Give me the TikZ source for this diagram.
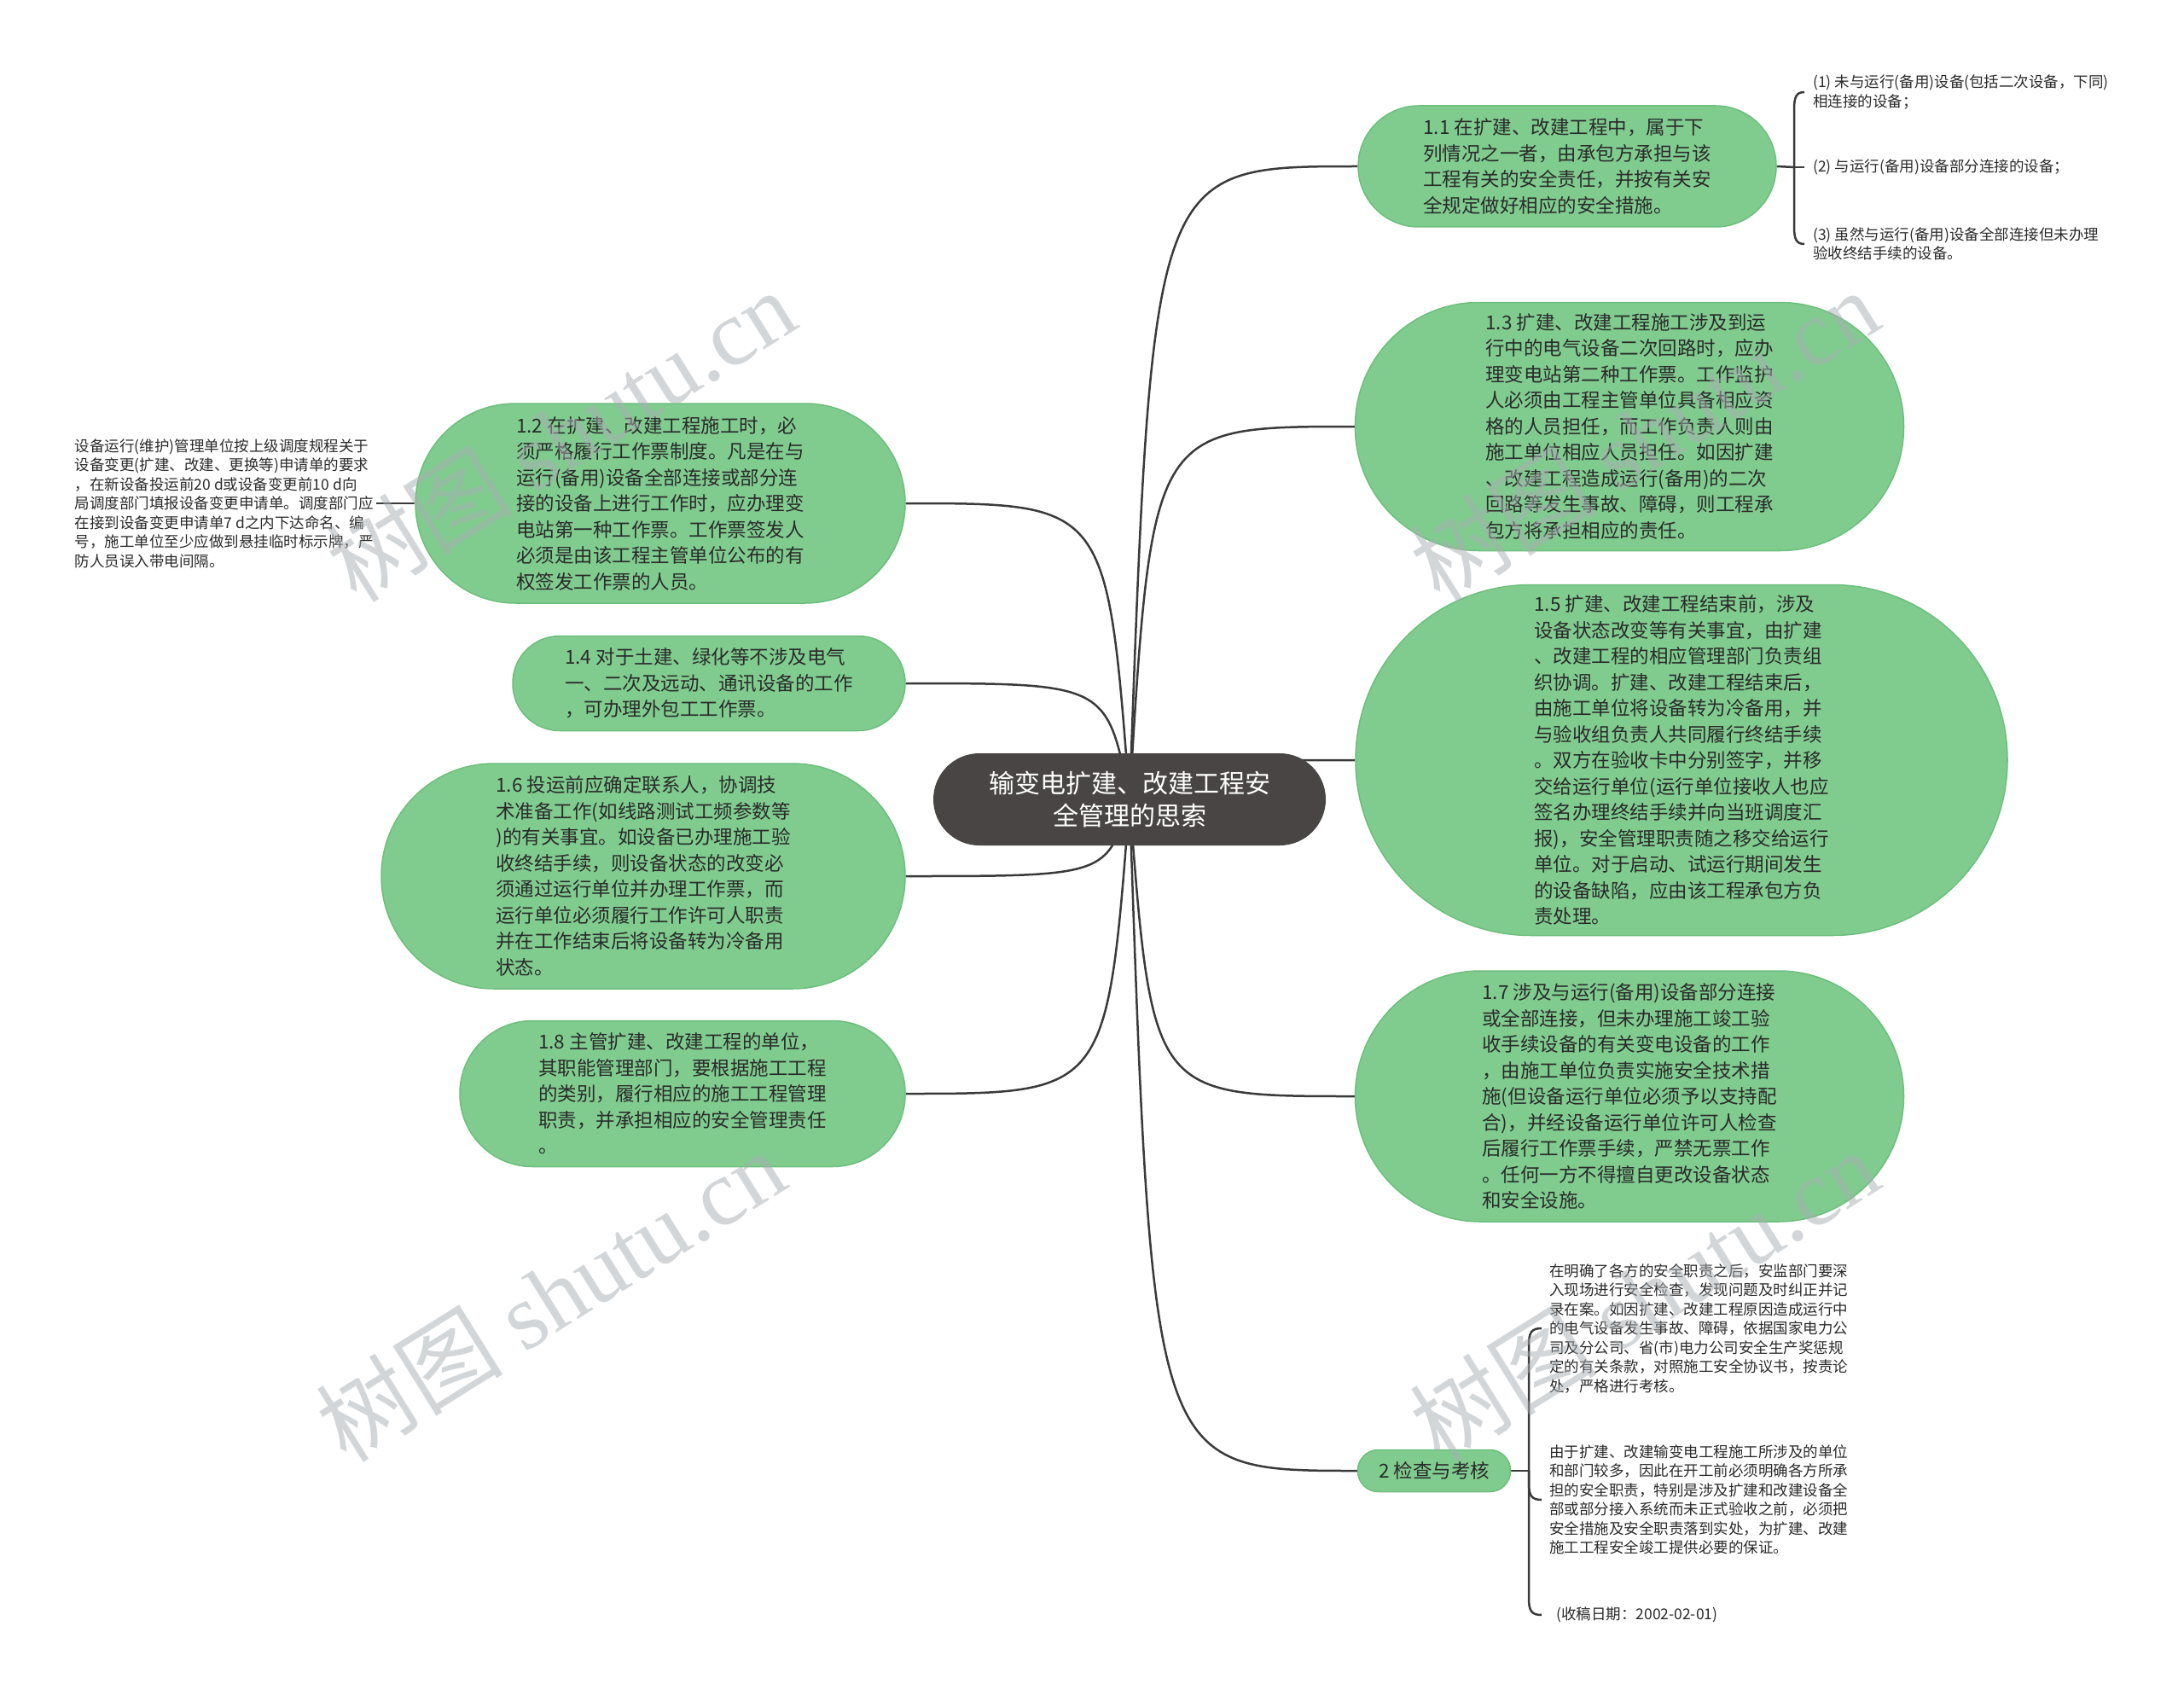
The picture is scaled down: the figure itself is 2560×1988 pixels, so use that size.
\documentclass[tikz,border=0pt]{standalone}
\usepackage{fontspec}
\setmainfont{Noto Sans CJK SC}
\newfontfamily\wmserif{Liberation Serif}
\usetikzlibrary{calc}
\pgfdeclarelayer{bg}\pgfdeclarelayer{fg}
\pgfsetlayers{bg,main,fg}
\definecolor{nodegreen}{HTML}{80CC8F}
\definecolor{nodeedge}{HTML}{6CBF7C}
\definecolor{rootfill}{HTML}{4A4545}
\definecolor{txt}{HTML}{2A2A2A}
\definecolor{wirecol}{HTML}{3A3A3A}
\definecolor{wmcol}{HTML}{A9AEB2}
\tikzset{
  topic/.style={draw=nodeedge, line width=1.5, fill=nodegreen, text=txt, align=left,
    font=\fontsize{22.5}{30.5}\selectfont, inner sep=0},
  root/.style={fill=rootfill, text=white, align=center, inner sep=0,
    font=\fontsize{30}{38}\selectfont},
  leaf/.style={text=txt, align=left, font=\fontsize{17.5}{22.5}\selectfont,
    inner xsep=10, inner ysep=2, anchor=west},
  wire/.style={draw=wirecol, line width=2.5},
  wm/.style={text=wmcol, opacity=0.5, rotate=32, inner sep=0},
}
\begin{document}
\begin{tikzpicture}[x=1pt, y=-1pt]
\useasboundingbox (0,0) rectangle (2560,1988);

% root
\node[root, minimum width=460, minimum height=108, rounded corners=54] (C) at (1324,937)
  {输变电扩建、改建工程安\\全管理的思索};

% right topics
\node[topic, minimum width=490, minimum height=142, rounded corners=71] (N11) at (1837,195)
  {1.1 在扩建、改建工程中，属于下\\列情况之一者，由承包方承担与该\\工程有关的安全责任，并按有关安\\全规定做好相应的安全措施。};
\node[topic, minimum width=643, minimum height=291, rounded corners=145] (N13) at (1910,500)
  {1.3 扩建、改建工程施工涉及到运\\行中的电气设备二次回路时，应办\\理变电站第二种工作票。工作监护\\人必须由工程主管单位具备相应资\\格的人员担任，而工作负责人则由\\施工单位相应人员担任。如因扩建\\、改建工程造成运行(备用)的二次\\回路等发生事故、障碍，则工程承\\包方将承担相应的责任。};
\node[topic, minimum width=764, minimum height=411, rounded corners=205] (N15) at (1971,891)
  {1.5 扩建、改建工程结束前，涉及\\设备状态改变等有关事宜，由扩建\\、改建工程的相应管理部门负责组\\织协调。扩建、改建工程结束后，\\由施工单位将设备转为冷备用，并\\与验收组负责人共同履行终结手续\\。双方在验收卡中分别签字，并移\\交给运行单位(运行单位接收人也应\\签名办理终结手续并向当班调度汇\\报)，安全管理职责随之移交给运行\\单位。对于启动、试运行期间发生\\的设备缺陷，应由该工程承包方负\\责处理。};
\node[topic, minimum width=643, minimum height=294, rounded corners=147] (N17) at (1910,1285)
  {1.7 涉及与运行(备用)设备部分连接\\或全部连接，但未办理施工竣工验\\收手续设备的有关变电设备的工作\\，由施工单位负责实施安全技术措\\施(但设备运行单位必须予以支持配\\合)，并经设备运行单位许可人检查\\后履行工作票手续，严禁无票工作\\。任何一方不得擅自更改设备状态\\和安全设施。};
\node[topic, minimum width=179, minimum height=49, rounded corners=24] (N2) at (1681,1724)
  {2 检查与考核};

% left topics
\node[topic, minimum width=574, minimum height=234, rounded corners=117] (N12) at (774,590)
  {1.2 在扩建、改建工程施工时，必\\须严格履行工作票制度。凡是在与\\运行(备用)设备全部连接或部分连\\接的设备上进行工作时，应办理变\\电站第一种工作票。工作票签发人\\必须是由该工程主管单位公布的有\\权签发工作票的人员。};
\node[topic, minimum width=460, minimum height=111, rounded corners=55] (N14) at (831,801)
  {1.4 对于土建、绿化等不涉及电气\\一、二次及远动、通讯设备的工作\\，可办理外包工工作票。};
\node[topic, minimum width=614, minimum height=264, rounded corners=132] (N16) at (754,1027)
  {1.6 投运前应确定联系人，协调技\\术准备工作(如线路测试工频参数等\\)的有关事宜。如设备已办理施工验\\收终结手续，则设备状态的改变必\\须通过运行单位并办理工作票，而\\运行单位必须履行工作许可人职责\\并在工作结束后将设备转为冷备用\\状态。};
\node[topic, minimum width=522, minimum height=171, rounded corners=85] (N18) at (800,1282)
  {1.8 主管扩建、改建工程的单位，\\其职能管理部门，要根据施工工程\\的类别，履行相应的施工工程管理\\职责，并承担相应的安全管理责任\\。};

% leaves
\node[leaf, inner xsep=3, anchor=east] (LL) at (441,590)
  {设备运行(维护)管理单位按上级调度规程关于\\设备变更(扩建、改建、更换等)申请单的要求\\，在新设备投运前20 d或设备变更前10 d向\\局调度部门填报设备变更申请单。调度部门应\\在接到设备变更申请单7 d之内下达命名、编\\号，施工单位至少应做到悬挂临时标示牌，严\\防人员误入带电间隔。};

\coordinate (J1) at (2103,196);
\node[leaf] (L1) at (2115,108) {(1) 未与运行(备用)设备(包括二次设备，下同)\\相连接的设备；};
\node[leaf] (L2) at (2115,196) {(2) 与运行(备用)设备部分连接的设备；};
\node[leaf] (L3) at (2115,286) {(3) 虽然与运行(备用)设备全部连接但未办理\\验收终结手续的设备。};

\coordinate (J2) at (1792,1724);
\node[leaf, inner xsep=9] (B1) at (1807,1557)
  {在明确了各方的安全职责之后，安监部门要深\\入现场进行安全检查，发现问题及时纠正并记\\录在案。如因扩建、改建工程原因造成运行中\\的电气设备发生事故、障碍，依据国家电力公\\司及分公司、省(市)电力公司安全生产奖惩规\\定的有关条款，对照施工安全协议书，按责论\\处，严格进行考核。};
\node[leaf, inner xsep=9] (B2) at (1807,1758)
  {由于扩建、改建输变电工程施工所涉及的单位\\和部门较多，因此在开工前必须明确各方所承\\担的安全职责，特别是涉及扩建和改建设备全\\部或部分接入系统而未正式验收之前，必须把\\安全措施及安全职责落到实处，为扩建、改建\\施工工程安全竣工提供必要的保证。};
\node[leaf, inner xsep=9] (B3) at (1807,1893) {\hspace{8pt}(收稿日期：2002-02-01)};

% background and connectors
\begin{pgfonlayer}{bg}
\fill[white] (0,0) rectangle (2560,1988);
\foreach \n/\a in {N11/west,N13/west,N15/west,N17/west,N2/west,N12/east,N14/east,N16/east,N18/east}{
  \coordinate (k-\n) at ($(C.center)!0.1!(\n.\a)$);
  \draw[wire] (C.center) .. controls (k-\n |- \n.\a) .. (\n.\a);
}
\draw[wire] (N12.west) -- (LL.east);
\draw[wire] (N11.east) -- (J1);
\draw[wire] (J1) -- (2103,128) .. controls (2103,113) and (2106,108) .. (L1.west);
\draw[wire] (J1) -- (L2.west);
\draw[wire] (J1) -- (2103,266) .. controls (2103,281) and (2106,286) .. (L3.west);
\draw[wire] (N2.east) -- (J2);
\draw[wire] (J2) -- (1792,1577) .. controls (1792,1562) and (1795,1557) .. (B1.west);
\draw[wire] (J2) -- (1792,1738) .. controls (1792,1753) and (1795,1758) .. (B2.west);
\draw[wire] (J2) -- (1792,1873) .. controls (1792,1888) and (1795,1893) .. (B3.west);
\end{pgfonlayer}

% watermarks
\begin{pgfonlayer}{fg}
\node[wm] (W1) at (657,510) {\fontsize{110}{110}\selectfont 树图 {\wmserif shutu.cn}};
\node[wm] (W2) at (1927,510) {\fontsize{110}{110}\selectfont 树图 {\wmserif shutu.cn}};
\node[wm] (W3) at (645,1518) {\fontsize{110}{110}\selectfont 树图 {\wmserif shutu.cn}};
\node[wm] (W4) at (1927,1518) {\fontsize{110}{110}\selectfont 树图 {\wmserif shutu.cn}};
\end{pgfonlayer}
\end{tikzpicture}
\end{document}
